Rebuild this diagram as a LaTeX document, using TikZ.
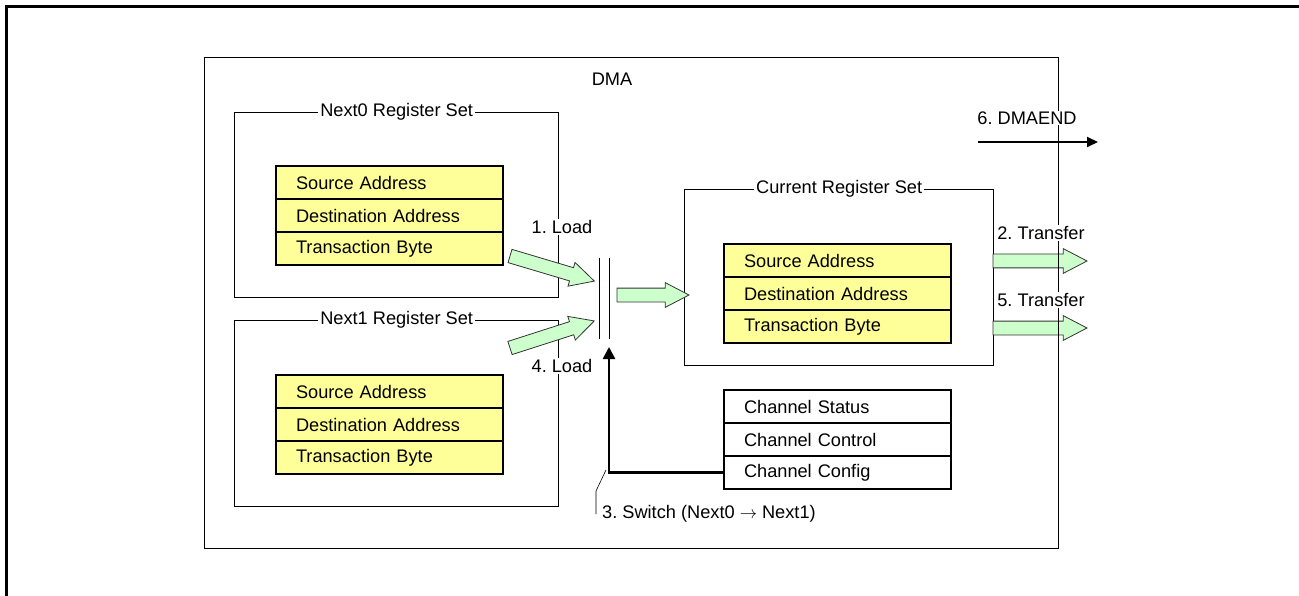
\documentclass[tikz,border=0pt]{standalone}
\usepackage{fontspec}
\setmainfont{Liberation Sans}
\usetikzlibrary{arrows.meta, positioning, shapes.arrows}

\definecolor{regyellow}{HTML}{FFFF99}
\definecolor{loadgreen}{HTML}{CCFFCC}
\frenchspacing

\begin{document}
\begin{tikzpicture}[
  x=1pt, y=-1pt,
  every node/.style={font=\fontsize{18.2}{22}\selectfont},
  setbox/.style={draw, line width=1.3pt, inner sep=0pt, anchor=north west},
  reg/.style={draw, line width=2pt, fill=regyellow, outer sep=0pt,
    minimum height=33pt, text width=187pt, inner xsep=20pt, inner ysep=0pt, align=left},
  chan/.style={reg, fill=white},
  title/.style={fill=white, inner xsep=2pt, inner ysep=1pt},
  fatarrow/.style={shape=single arrow, draw=black!80, line width=0.8pt, fill=loadgreen,
    inner xsep=0pt, inner ysep=6.5pt, single arrow head extend=5.5pt, single arrow tip angle=55,
    outer sep=0pt, pos=0, sloped, anchor=tail},
  ctrl/.style={-{Triangle[length=12pt,width=12pt]}, line width=2.5pt}
]
\useasboundingbox (0,0) rectangle (1299,596);

% outer frame
\draw[line width=3pt] (6.5,596) -- (6.5,6.5) -- (1299,6.5);

% next register sets
\node[setbox, minimum width=324pt, minimum height=185pt] (next0) at (234,112) {};
\node[reg, anchor=north west] (src0) at (276,166) {Source Address};
\node[reg, below=0pt of src0] (dst0) {Destination Address};
\node[reg, below=0pt of dst0] (len0) {Transaction Byte};

\node[setbox, minimum width=324pt, minimum height=186pt] (next1) at (234,320) {};
\node[reg, anchor=north west] (src1) at (276,375) {Source Address};
\node[reg, below=0pt of src1] (dst1) {Destination Address};
\node[reg, below=0pt of dst1] (len1) {Transaction Byte};

% current register set
\node[setbox, minimum width=309pt, minimum height=176pt] (cur) at (684,189) {};
\node[reg, anchor=north west] (srcc) at (724,244) {Source Address};
\node[reg, below=0pt of srcc] (dstc) {Destination Address};
\node[reg, below=0pt of dstc] (lenc) {Transaction Byte};

% channel registers
\node[chan, anchor=north west] (stat) at (724,390) {Channel Status};
\node[chan, below=0pt of stat] (ctl) {Channel Control};
\node[chan, below=0pt of ctl] (cfg) {Channel Config};

% switch
\node[minimum width=9pt, minimum height=81pt, inner sep=0pt] (sw) at (604.5,298.5) {};
\draw[line width=1.3pt] (sw.north west) -- (sw.south west) (sw.north east) -- (sw.south east);

% load / transfer arrows
\coordinate (load0) at (510,256);
\coordinate (load0in) at (594,281);
\coordinate (load1) at (510,348);
\coordinate (load1in) at (594,321);
\coordinate (swout) at (617,295);
\coordinate (curin) at (689,295);
\coordinate (xfer2) at (993,261);
\coordinate (xfer2out) at (1087,261);
\coordinate (xfer5) at (993,328);
\coordinate (xfer5out) at (1087,328);
\path (load0) -- node[fatarrow, minimum height=88pt] {} (load0in);
\path (load1) -- node[fatarrow, minimum height=88.5pt] {} (load1in);
\path (swout) -- node[fatarrow, minimum height=72pt] {} (curin);
\path (xfer2) -- node[fatarrow, minimum height=94pt] {} (xfer2out);
\path (xfer5) -- node[fatarrow, minimum height=94pt] {} (xfer5out);

% DMA block
\node[setbox, minimum width=854pt, minimum height=491pt] (dma) at (204,57) {};
\node (dmatitle) at (612,79) {DMA};

% titles and labels
\node[title] at (next0.north) {Next0 Register Set};
\node[title] at (next1.north) {Next1 Register Set};
\node[title] at (cur.north) {Current Register Set};
\node[title] (l1) at (562,227) {1. Load};
\node[title] (l4) at (562,366) {4. Load};
\node[title] (t2) at (1041,233) {2. Transfer};
\node[title] (t5) at (1041,300) {5. Transfer};
\node[title] (dmaend) at (1027,118) {6. DMAEND};

% DMAEND
\coordinate (endtail) at (978,142);
\coordinate (endtip) at (1098,142);
\draw[-{Triangle[length=11pt,width=10pt]}, line width=2pt] (endtail) -- (endtip);

% switch control
\coordinate (swin) at (609,347);
\draw[ctrl] (cfg.west) -| (swin);
\node[anchor=west, inner xsep=6pt, inner ysep=2pt] (swlbl) at (596,514) {3. Switch (Next0 $\rightarrow$ Next1)};
\draw[line width=0.6pt] (swlbl.west) -- ++(0,-23) -- ++(10,-21);

\end{tikzpicture}
\end{document}
